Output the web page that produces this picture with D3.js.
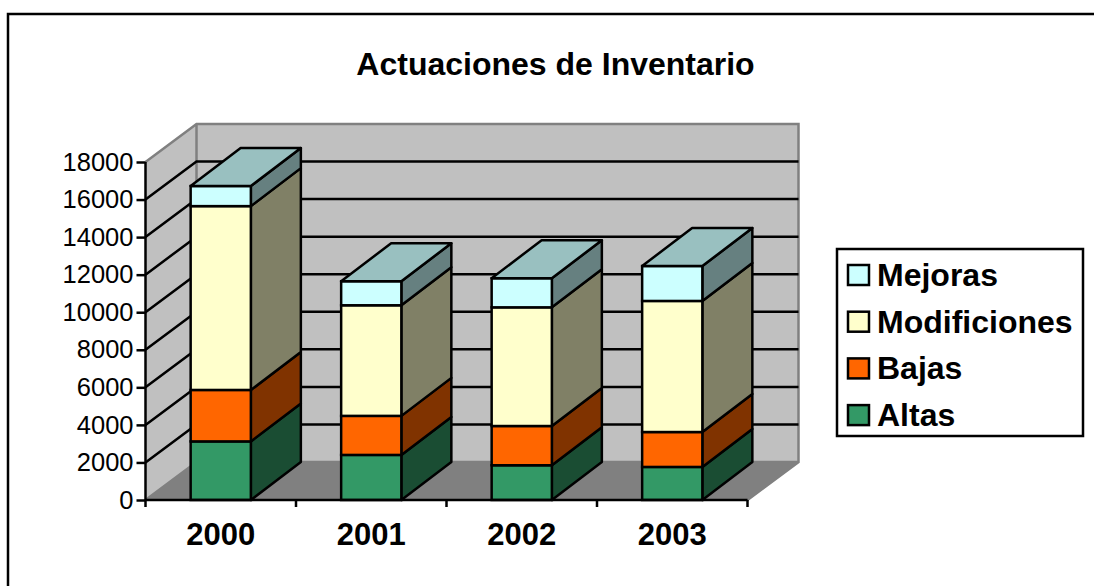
<!DOCTYPE html>
<html>
<head>
<meta charset="utf-8">
<script src="https://cdn.jsdelivr.net/npm/d3@7"></script>
<style>
body { margin: 0; background: #fff; }
svg { display: block; font-family: "Liberation Sans", Arial, sans-serif; }
</style>
</head>
<body>
<svg id="chart" width="1094" height="586"></svg>
<script>
// values
const years = ["2000", "2001", "2002", "2003"];
const altas = [3120, 2400, 1850, 1760];
const bajas = [2740, 2080, 2090, 1860];
const modificiones = [9790, 5890, 6320, 6980];
const mejoras = [1070, 1280, 1550, 1860];
const yTicks = [0, 2000, 4000, 6000, 8000, 10000, 12000, 14000, 16000, 18000];

const seriesNames = ["Altas", "Bajas", "Modificiones", "Mejoras"];
const seriesValues = [altas, bajas, modificiones, mejoras];
const front = ["#339966", "#ff6600", "#ffffcc", "#ccffff"];
const side = ["#1a4d33", "#803300", "#808066", "#668080"];
const topFace = "#99c0c0";

const chart = d3.select("#chart");
const x = d3.scaleBand().domain(years).range([145.5, 747.5]).paddingInner(0.6).paddingOuter(0.3);
const y = d3.scaleLinear().domain([0, 18000]).range([500, 162]);
const depth = { x: 51, y: -38 };
const barDepth = { x: 50, y: -38 };

const poly = (pts) => pts.map((p) => p.join(",")).join(" ");

const addWalls = () => {
	const x0 = x.range()[0], x1 = x.range()[1];
	const yb = y(0), yt = y(18000);
	chart.append("polygon")
		.attr("points", poly([[x0, yb], [x0 + depth.x, yb + depth.y], [x0 + depth.x, yt + depth.y], [x0, yt]]))
		.attr("fill", "#c0c0c0");
	chart.append("rect")
		.attr("x", x0 + depth.x).attr("y", yt + depth.y)
		.attr("width", x1 - x0).attr("height", yb - yt)
		.attr("fill", "#c0c0c0");
	chart.append("polygon")
		.attr("points", poly([[x0, yb], [x1, yb], [x1 + depth.x, yb + depth.y], [x0 + depth.x, yb + depth.y]]))
		.attr("fill", "#808080");
	// wall edges
	chart.append("path")
		.attr("d", `M${x0},${yt}L${x0 + depth.x},${yt + depth.y}H${x1 + depth.x}V${yb + depth.y}L${x1},${yb}`
			+ `M${x0 + depth.x},${yt + depth.y}V${yb + depth.y}H${x1 + depth.x}M${x0 + depth.x},${yb + depth.y}L${x0},${yb}`)
		.attr("fill", "none").attr("stroke", "#808080").attr("stroke-width", 2.5);
	// gridlines, side wall then back wall
	chart.append("g").selectAll("path")
		.data(yTicks.filter((t) => t > 0 && t < 18000))
		.join("path")
		.attr("d", (t) => `M${x0},${y(t)}L${x0 + depth.x},${y(t) + depth.y}H${x1 + depth.x}`)
		.attr("fill", "none").attr("stroke", "#000").attr("stroke-width", 2.5);
}

const addBars = () => {
	years.forEach((year, i) => {
		let base = 0;
		const xl = x(year), xr = xl + x.bandwidth();
		const g = chart.append("g").attr("class", "bar");
		seriesValues.forEach((vals, s) => {
			const yb = y(base), yt = y(base + vals[i]);
			g.append("polygon")
				.attr("points", poly([[xr, yb], [xr + barDepth.x, yb + barDepth.y], [xr + barDepth.x, yt + barDepth.y], [xr, yt]]))
				.attr("fill", side[s]).attr("stroke", "#000").attr("stroke-width", 2.5).attr("stroke-linejoin", "round");
			g.append("rect")
				.attr("x", xl).attr("y", yt).attr("width", xr - xl).attr("height", yb - yt)
				.attr("fill", front[s]).attr("stroke", "#000").attr("stroke-width", 2.5);
			base += vals[i];
		});
		const yt = y(base);
		g.append("polygon")
			.attr("points", poly([[xl, yt], [xr, yt], [xr + barDepth.x, yt + barDepth.y], [xl + barDepth.x, yt + barDepth.y]]))
			.attr("fill", topFace).attr("stroke", "#000").attr("stroke-width", 2.5).attr("stroke-linejoin", "round");
	});
}

const addAxes = () => {
	const x0 = x.range()[0], x1 = x.range()[1];
	const yAxis = d3.axisLeft(y).tickValues(yTicks).tickFormat(d3.format("d")).tickSize(11).tickPadding(3);
	const gy = chart.append("g").attr("transform", `translate(${x0},0)`).call(yAxis);
	gy.selectAll("path").remove();
	gy.append("line").attr("y1", y(18000)).attr("y2", y(0)).attr("stroke", "#000").attr("stroke-width", 2.5);
	gy.selectAll(".tick line").attr("stroke", "#000").attr("stroke-width", 2.5).attr("x2", -9);
	gy.selectAll("text").attr("x", -12).attr("fill", "#000").style("font-size", "25.5px").style("font-family", "'Liberation Sans', Arial, sans-serif");

	chart.append("line").attr("x1", x0).attr("x2", x1).attr("y1", y(0)).attr("y2", y(0)).attr("stroke", "#000").attr("stroke-width", 2.5);
	chart.append("g").selectAll("line")
		.data(d3.range(years.length + 1))
		.join("line")
		.attr("x1", (i) => x0 + i * x.step()).attr("x2", (i) => x0 + i * x.step())
		.attr("y1", y(0)).attr("y2", y(0) + 7)
		.attr("stroke", "#000").attr("stroke-width", 2.5);
	chart.append("g").selectAll("text")
		.data(years)
		.join("text")
		.attr("x", (d) => x(d) + x.bandwidth() / 2).attr("y", 545)
		.attr("text-anchor", "middle")
		.style("font-size", "31px").style("font-weight", "bold")
		.text((d) => d);
}

const addLegend = () => {
	chart.append("rect")
		.attr("x", 837).attr("y", 249).attr("width", 246).attr("height", 187)
		.attr("fill", "#fff").attr("stroke", "#000").attr("stroke-width", 2.5);
	const rows = seriesNames.map((name, s) => ({ name, color: front[s] })).reverse();
	const row = chart.append("g").selectAll("g")
		.data(rows)
		.join("g")
		.attr("transform", (d, i) => `translate(0,${275 + i * 46.7})`);
	row.append("rect")
		.attr("x", 848).attr("y", -10).attr("width", 21).attr("height", 20)
		.attr("fill", (d) => d.color).attr("stroke", "#000").attr("stroke-width", 2.5);
	row.append("text")
		.attr("x", 877).attr("y", 11)
		.style("font-size", "32px").style("font-weight", "bold")
		.text((d) => d.name);
}

// frame only on the top and left, as in the picture
chart.append("path").attr("d", "M8,586V14H1094").attr("fill", "none").attr("stroke", "#000").attr("stroke-width", 2.5);
chart.append("text")
	.attr("x", 555.5).attr("y", 75).attr("text-anchor", "middle")
	.style("font-size", "32px").style("font-weight", "bold")
	.text("Actuaciones de Inventario");

addWalls();
addBars();
addAxes();
addLegend();
</script>
</body>
</html>
